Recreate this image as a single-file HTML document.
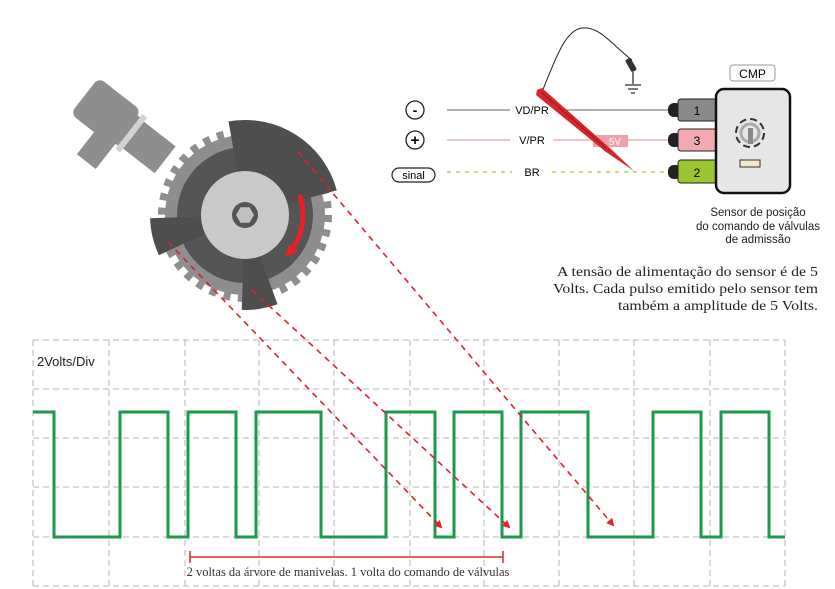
<!DOCTYPE html>
<html><head><meta charset="utf-8"><style>
html,body{margin:0;padding:0;background:#fff;}
svg{display:block;}
</style></head><body>
<svg width="835" height="589" viewBox="0 0 835 589" xmlns="http://www.w3.org/2000/svg">
<defs>
<marker id="ah" markerWidth="8" markerHeight="8" refX="6" refY="4" orient="auto" markerUnits="userSpaceOnUse"><path d="M0,0 L8,4 L0,8 Z" fill="#e8202a"/></marker>
<marker id="ah2" markerWidth="12" markerHeight="12" refX="8" refY="6" orient="auto" markerUnits="userSpaceOnUse"><path d="M0,0 L12,6 L0,12 Z" fill="#e8202a"/></marker>
</defs>
<!-- grid -->
<g stroke="#b4b4b4" stroke-width="1" stroke-dasharray="6,4" fill="none">
<line x1="33" y1="340" x2="785" y2="340"/><line x1="33" y1="389" x2="785" y2="389"/>
<line x1="33" y1="438" x2="785" y2="438"/><line x1="33" y1="487" x2="785" y2="487"/>
<line x1="33" y1="537" x2="785" y2="537"/><line x1="33" y1="586" x2="785" y2="586"/>
<line x1="33" y1="340" x2="33" y2="586"/><line x1="109" y1="340" x2="109" y2="586"/>
<line x1="185" y1="340" x2="185" y2="586"/><line x1="259" y1="340" x2="259" y2="586"/>
<line x1="334" y1="340" x2="334" y2="586"/><line x1="410" y1="340" x2="410" y2="586"/>
<line x1="484" y1="340" x2="484" y2="586"/><line x1="559" y1="340" x2="559" y2="586"/>
<line x1="634" y1="340" x2="634" y2="586"/><line x1="710" y1="340" x2="710" y2="586"/>
<line x1="785" y1="340" x2="785" y2="586"/>
</g>
<text x="37" y="366" font-family="Liberation Sans, sans-serif" font-size="13" fill="#222">2Volts/Div</text>
<!-- waveform -->
<polyline fill="none" stroke="#1a9a4a" stroke-width="3" points="33,412 54,412 54,537 120,537 120,412 168,412 168,537 188,537 188,412 236,412 236,537 256,537 256,412 321,412 321,537 386,537 386,412 435,412 435,537 454,537 454,412 502,412 502,537 521,537 521,412 588,412 588,537 653,537 653,412 701,412 701,537 721,537 721,412 769,412 769,537 785,537"/>
<!-- red bar -->
<g stroke="#d62a2a" stroke-width="1.5"><line x1="190" y1="557" x2="503" y2="557"/><line x1="190" y1="551" x2="190" y2="563"/><line x1="503" y1="551" x2="503" y2="563"/></g>
<text x="348" y="576" text-anchor="middle" font-family="Liberation Serif, serif" font-size="12.5" fill="#333">2 voltas da árvore de manivelas. 1 volta do comando de válvulas</text>
<!-- sensor (top-left) -->
<g transform="translate(95,105) rotate(38)" fill="#8e8e8e">
<rect x="-14" y="-24" width="54" height="46" rx="7"/>
<rect x="16" y="16" width="24" height="34"/>
<rect x="38" y="-18" width="6" height="36"/>
<rect x="43" y="-22" width="6" height="44" fill="#d2d2d2"/>
<rect x="49" y="-17" width="40" height="34"/>
</g>
<!-- gear -->
<circle cx="245" cy="215" r="80" fill="#8e8e8e"/>
<circle cx="245" cy="215" r="83" fill="none" stroke="#8e8e8e" stroke-width="8" stroke-dasharray="7,7.5"/>
<circle cx="245" cy="215" r="68" fill="#555"/>
<path d="M245,215 L228.5,121.4 A95,95 0 0 1 336.8,190.4 Z" fill="#4e4e4e"/>
<path d="M245,215 L150.1,218.3 A95,95 0 0 0 158.9,255.2 Z" fill="#4e4e4e"/>
<path d="M245,215 L277.5,304.3 A95,95 0 0 1 241.7,309.9 Z" fill="#4e4e4e"/>
<circle cx="245" cy="215" r="44" fill="#c9c9c9"/>
<circle cx="245" cy="215" r="13" fill="#555"/>
<polygon points="254,215 249.5,222.8 240.5,222.8 236,215 240.5,207.2 249.5,207.2" fill="#c0c0c0"/>
<path d="M299.5,195.2 A58,58 0 0 1 288,254" fill="none" stroke="#e8202a" stroke-width="5" marker-end="url(#ah2)"/>
<!-- red dashed lines -->
<g stroke="#e2202a" stroke-width="1.6" stroke-dasharray="6,5" fill="none" marker-end="url(#ah)">
<line x1="168" y1="242" x2="441" y2="527"/>
<line x1="252" y1="290" x2="509" y2="527"/>
<line x1="298" y1="152" x2="613" y2="525"/>
</g>
<!-- top right -->
<circle cx="415" cy="110" r="9" fill="#fff" stroke="#222" stroke-width="1.3"/>
<text x="415" y="115" text-anchor="middle" font-family="Liberation Sans, sans-serif" font-size="14" font-weight="bold">-</text>
<circle cx="415" cy="140" r="9" fill="#fff" stroke="#222" stroke-width="1.3"/>
<text x="415" y="145" text-anchor="middle" font-family="Liberation Sans, sans-serif" font-size="15" font-weight="bold">+</text>
<rect x="392" y="168" width="43" height="14" rx="7" fill="#fff" stroke="#222" stroke-width="1.2"/>
<text x="413.5" y="179" text-anchor="middle" font-family="Liberation Sans, sans-serif" font-size="11">sinal</text>
<line x1="447" y1="110" x2="510" y2="110" stroke="#666"/>
<line x1="555" y1="110" x2="672" y2="110" stroke="#666"/>
<text x="532" y="114" text-anchor="middle" font-family="Liberation Sans, sans-serif" font-size="11">VD/PR</text>
<line x1="447" y1="140" x2="510" y2="140" stroke="#e88a9a"/>
<line x1="553" y1="140" x2="672" y2="140" stroke="#e88a9a"/>
<text x="532" y="144" text-anchor="middle" font-family="Liberation Sans, sans-serif" font-size="11">V/PR</text>
<rect x="593" y="135" width="35" height="12" fill="#f0a0a8"/>
<text x="615" y="145" text-anchor="middle" font-family="Liberation Sans, sans-serif" font-size="10" fill="#fff">5V</text>
<line x1="447" y1="172" x2="512" y2="172" stroke="#b8d040" stroke-width="1.5" stroke-dasharray="4,5"/>
<line x1="552" y1="172" x2="672" y2="172" stroke="#b8d040" stroke-width="1.5" stroke-dasharray="4,5"/>
<text x="532" y="176" text-anchor="middle" font-family="Liberation Sans, sans-serif" font-size="11">BR</text>
<!-- wire & ground -->
<path d="M542,92 C555,60 565,30 582,28 C600,26 612,45 632,60" fill="none" stroke="#222" stroke-width="1"/>
<rect x="628" y="58" width="6" height="14" rx="2" fill="#333" transform="rotate(-30 631 65)"/>
<g stroke="#222" stroke-width="1.2"><line x1="633" y1="72" x2="633" y2="84"/><line x1="625" y1="85" x2="641" y2="85"/><line x1="628" y1="89" x2="638" y2="89"/><line x1="631" y1="93" x2="635" y2="93"/></g>
<!-- probe -->
<path d="M537,90 L542,88 L612,150 L634,171 L606,152 L536,95 Z" fill="#d8242c"/>
<line x1="541" y1="92" x2="606" y2="148" stroke="#a01820" stroke-width="1"/>
<!-- connector -->
<g>
<rect x="668" y="103" width="14" height="14" rx="6" fill="#222"/>
<rect x="668" y="133" width="14" height="14" rx="6" fill="#222"/>
<rect x="668" y="165" width="14" height="14" rx="6" fill="#222"/>
<rect x="678" y="99" width="40" height="22" rx="3" fill="#8a8a8a" stroke="#222"/>
<rect x="678" y="129" width="40" height="22" rx="3" fill="#f2a9b0" stroke="#222"/>
<rect x="678" y="160" width="40" height="23" rx="3" fill="#9cc630" stroke="#222"/>
<text x="697" y="115" text-anchor="middle" font-family="Liberation Sans, sans-serif" font-size="12">1</text>
<text x="697" y="145" text-anchor="middle" font-family="Liberation Sans, sans-serif" font-size="12">3</text>
<text x="697" y="177" text-anchor="middle" font-family="Liberation Sans, sans-serif" font-size="12">2</text>
<rect x="716" y="89" width="74" height="104" rx="8" fill="#e6e6e6" stroke="#111" stroke-width="2.5"/>
<circle cx="750" cy="133" r="14" fill="none" stroke="#333" stroke-width="2" stroke-dasharray="7,4"/>
<circle cx="750" cy="133" r="9" fill="none" stroke="#aaa" stroke-width="3"/>
<rect x="748" y="128" width="5" height="16" fill="#888"/>
<rect x="740" y="160" width="20" height="7" fill="#f3e8c8" stroke="#333"/>
<rect x="730" y="65" width="45" height="16" rx="3" fill="#fff" stroke="#999"/>
<text x="752.5" y="78" text-anchor="middle" font-family="Liberation Sans, sans-serif" font-size="12">CMP</text>
</g>
<g font-family="Liberation Sans, sans-serif" font-size="11.5" fill="#222" text-anchor="middle">
<text x="758" y="216">Sensor de posição</text>
<text x="758" y="230">do comando de válvulas</text>
<text x="758" y="243">de admissão</text>
</g>
<g font-family="Liberation Serif, serif" font-size="14" fill="#222">
<text x="557" y="276" textLength="261" lengthAdjust="spacingAndGlyphs">A tensão de alimentação do sensor é de 5</text>
<text x="553" y="293" textLength="265" lengthAdjust="spacingAndGlyphs">Volts. Cada pulso emitido pelo sensor tem</text>
<text x="618" y="310" textLength="200" lengthAdjust="spacingAndGlyphs">também a amplitude de 5 Volts.</text>
</g>
</svg>
</body></html>
